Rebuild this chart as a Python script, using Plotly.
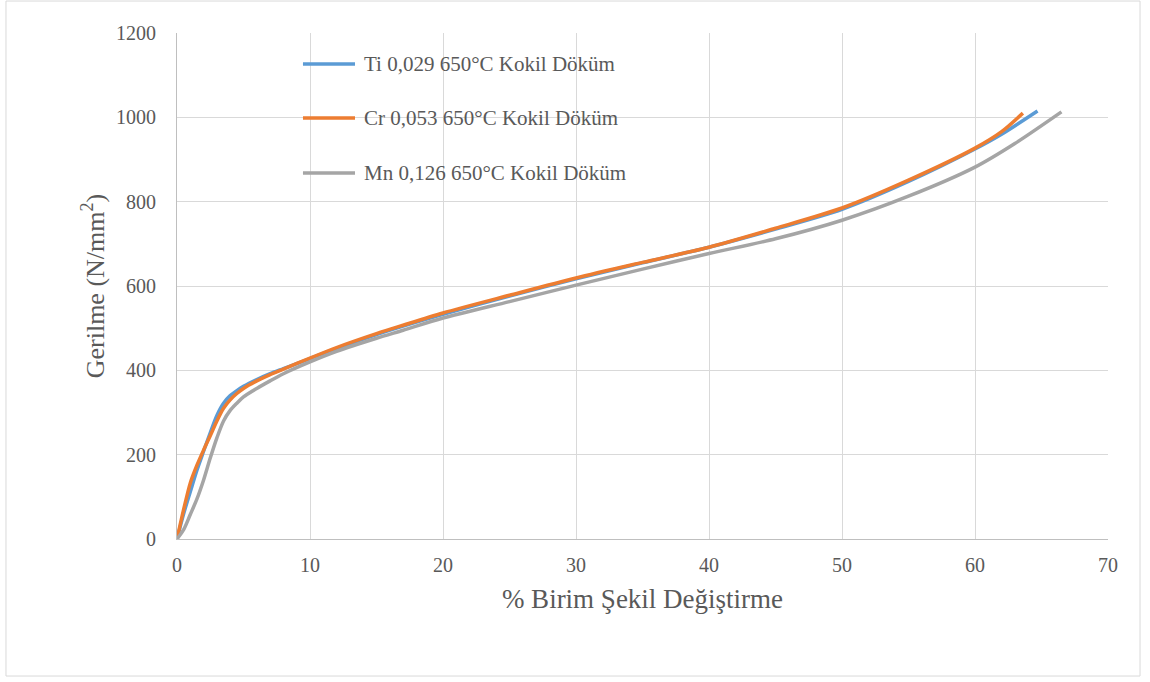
import plotly.graph_objects as go

# Stress-strain curves (strain %, stress N/mm²)
ti_strain = [0, 0.5, 1.0, 1.5, 2.0, 2.5, 3.0, 3.5, 4.0, 4.5, 5, 6, 7, 8, 10, 12, 15, 17, 20,
             25, 30, 35, 40, 45, 50, 55, 60, 62, 64.7]
ti_stress = [0, 60, 112, 163, 208, 252, 293, 322, 340, 352, 362, 378, 392, 404, 428, 452, 485, 505, 533,
             576, 617, 655, 692, 735, 782, 848, 925, 960, 1015]

cr_strain = [0, 0.5, 1.0, 1.5, 2.0, 2.5, 3.0, 3.5, 4.0, 4.5, 5, 6, 7, 8, 10, 12, 15, 17, 20,
             25, 30, 35, 40, 45, 50, 55, 60, 62, 63.6]
cr_stress = [0, 70, 133, 175, 211, 245, 280, 310, 330, 345, 357, 375, 390, 403, 429, 454, 487, 507, 536,
             578, 619, 656, 692, 737, 785, 851, 927, 966, 1010]

mn_strain = [0, 0.5, 1.0, 1.5, 2.0, 2.5, 3.0, 3.5, 4.0, 4.5, 5, 6, 7, 8, 10, 12, 15, 17, 20,
             25, 30, 35, 40, 45, 50, 55, 60, 63, 66.5]
mn_stress = [0, 22, 58, 95, 140, 192, 240, 280, 305, 322, 337, 357, 375, 392, 420, 445, 476, 495, 524,
             563, 602, 640, 677, 712, 756, 813, 882, 938, 1013]

series_names = ["Ti 0,029 650°C Kokil Döküm", "Cr 0,053 650°C Kokil Döküm", "Mn 0,126 650°C Kokil Döküm"]
series_colors = ["#5B9BD5", "#ED7D31", "#A5A5A5"]

x_ticks = [0, 10, 20, 30, 40, 50, 60, 70]
y_ticks = [0, 200, 400, 600, 800, 1000, 1200]

FONT = "Liberation Serif"
TEXT = "#595959"

fig = go.Figure()
for name, xs, ys, color in zip(series_names,
                               [ti_strain, cr_strain, mn_strain],
                               [ti_stress, cr_stress, mn_stress],
                               series_colors):
    fig.add_trace(go.Scatter(
        x=xs, y=ys, mode="lines", name=name, showlegend=False,
        line=dict(color=color, width=3.5, shape="spline", smoothing=0.8),
    ))

# Legend drawn inside the plot area: a short line sample and a label per series
legend_rows_y = [0.9387, 0.832, 0.7233]
shapes = [dict(
    type="rect", xref="paper", yref="paper",
    x0=-0.1837, x1=1.0344, y0=-0.2708, y1=1.0632,
    line=dict(color="#D9D9D9", width=1), fillcolor="rgba(0,0,0,0)", layer="below",
)]
annotations = []
for name, color, ly in zip(series_names, series_colors, legend_rows_y):
    shapes.append(dict(type="line", xref="paper", yref="paper",
                       x0=0.1353, x1=0.1912, y0=ly, y1=ly,
                       line=dict(color=color, width=3.5)))
    annotations.append(dict(xref="paper", yref="paper", x=0.1987, y=ly,
                            xanchor="left", yanchor="middle", showarrow=False,
                            text=name, font=dict(family=FONT, size=21, color=TEXT)))

fig.update_layout(
    width=1150, height=682,
    margin=dict(l=177, r=42, t=33, b=143),
    paper_bgcolor="white", plot_bgcolor="white",
    font=dict(family=FONT, color=TEXT, size=20),
    showlegend=False,
    shapes=shapes,
    annotations=annotations,
)

fig.update_xaxes(
    range=[0, 70], tickvals=x_ticks, showgrid=True, gridcolor="#D9D9D9", gridwidth=1,
    zeroline=False, showline=True, linecolor="#BFBFBF", linewidth=1,
    ticks="outside", ticklen=8, tickcolor="rgba(0,0,0,0)",
    tickfont=dict(family=FONT, size=20, color=TEXT),
    title=dict(text="% Birim Şekil Değiştirme", font=dict(family=FONT, size=27, color=TEXT), standoff=14),
)
fig.update_yaxes(
    range=[0, 1200], tickvals=y_ticks, showgrid=True, gridcolor="#D9D9D9", gridwidth=1,
    zeroline=False, showline=True, linecolor="#BFBFBF", linewidth=1,
    ticks="outside", ticklen=16, tickcolor="rgba(0,0,0,0)",
    tickfont=dict(family=FONT, size=20, color=TEXT),
    title=dict(text="Gerilme (N/mm<sup>2</sup>)", font=dict(family=FONT, size=26, color=TEXT), standoff=3),
)

fig.write_html("out.html")
